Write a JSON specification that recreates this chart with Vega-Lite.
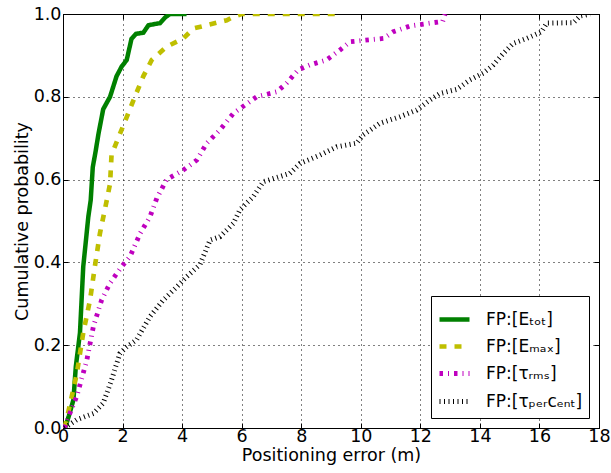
{
  "$schema": "https://vega.github.io/schema/vega-lite/v6.json",
  "autosize": {"type": "none"},
  "padding": {"left": 63, "top": 14, "right": 12, "bottom": 45},
  "width": 536,
  "height": 414,
  "background": "white",
  "config": {
    "font": "DejaVu Sans",
    "view": {"stroke": "black", "strokeWidth": 1},
    "axis": {
      "labelFont": "DejaVu Sans", "titleFont": "DejaVu Sans",
      "labelFontSize": 17.5, "titleFontSize": 17.5, "titleFontWeight": "normal",
      "labelColor": "black", "titleColor": "black",
      "tickColor": "black", "domainColor": "black", "tickSize": -5, "tickWidth": 1,
      "gridColor": "black", "gridDash": [1, 4], "gridOpacity": 1, "gridWidth": 1
    },
    "legend": {
      "orient": "bottom-right", "offset": 10,
      "strokeColor": "black", "fillColor": "white", "padding": 6,
      "labelFont": "DejaVu Sans", "labelFontSize": 17, "labelColor": "black",
      "symbolSize": 900, "symbolType": "stroke", "rowPadding": 0, "labelOffset": 14,
      "cornerRadius": 0
    }
  },
  "resolve": {"axis": {"x": "independent", "y": "independent"}},
  "data": {"values": [
    {"s": "FP:[Eₜₒₜ]", "x": 0.07, "y": 0},
    {"s": "FP:[Eₜₒₜ]", "x": 0.2, "y": 0.03},
    {"s": "FP:[Eₜₒₜ]", "x": 0.35, "y": 0.068},
    {"s": "FP:[Eₜₒₜ]", "x": 0.43, "y": 0.148},
    {"s": "FP:[Eₜₒₜ]", "x": 0.57, "y": 0.23},
    {"s": "FP:[Eₜₒₜ]", "x": 0.68, "y": 0.39},
    {"s": "FP:[Eₜₒₜ]", "x": 0.78, "y": 0.46},
    {"s": "FP:[Eₜₒₜ]", "x": 0.85, "y": 0.51},
    {"s": "FP:[Eₜₒₜ]", "x": 0.93, "y": 0.55},
    {"s": "FP:[Eₜₒₜ]", "x": 1.0, "y": 0.63},
    {"s": "FP:[Eₜₒₜ]", "x": 1.1, "y": 0.67},
    {"s": "FP:[Eₜₒₜ]", "x": 1.19, "y": 0.71},
    {"s": "FP:[Eₜₒₜ]", "x": 1.35, "y": 0.77},
    {"s": "FP:[Eₜₒₜ]", "x": 1.58, "y": 0.80},
    {"s": "FP:[Eₜₒₜ]", "x": 1.8, "y": 0.85},
    {"s": "FP:[Eₜₒₜ]", "x": 1.97, "y": 0.873},
    {"s": "FP:[Eₜₒₜ]", "x": 2.14, "y": 0.889},
    {"s": "FP:[Eₜₒₜ]", "x": 2.3, "y": 0.94},
    {"s": "FP:[Eₜₒₜ]", "x": 2.45, "y": 0.952},
    {"s": "FP:[Eₜₒₜ]", "x": 2.7, "y": 0.955},
    {"s": "FP:[Eₜₒₜ]", "x": 2.87, "y": 0.973},
    {"s": "FP:[Eₜₒₜ]", "x": 3.26, "y": 0.978},
    {"s": "FP:[Eₜₒₜ]", "x": 3.45, "y": 0.993},
    {"s": "FP:[Eₜₒₜ]", "x": 3.6, "y": 1.0},
    {"s": "FP:[Eₜₒₜ]", "x": 4.15, "y": 1.0},
    {"s": "FP:[Eₘₐₓ]", "x": 0.05, "y": 0},
    {"s": "FP:[Eₘₐₓ]", "x": 0.12, "y": 0.02},
    {"s": "FP:[Eₘₐₓ]", "x": 0.46, "y": 0.13},
    {"s": "FP:[Eₘₐₓ]", "x": 0.68, "y": 0.23},
    {"s": "FP:[Eₘₐₓ]", "x": 0.91, "y": 0.31},
    {"s": "FP:[Eₘₐₓ]", "x": 1.07, "y": 0.39},
    {"s": "FP:[Eₘₐₓ]", "x": 1.24, "y": 0.47},
    {"s": "FP:[Eₘₐₓ]", "x": 1.47, "y": 0.55},
    {"s": "FP:[Eₘₐₓ]", "x": 1.58, "y": 0.59},
    {"s": "FP:[Eₘₐₓ]", "x": 1.63, "y": 0.66},
    {"s": "FP:[Eₘₐₓ]", "x": 1.91, "y": 0.71},
    {"s": "FP:[Eₘₐₓ]", "x": 2.19, "y": 0.76},
    {"s": "FP:[Eₘₐₓ]", "x": 2.47, "y": 0.81},
    {"s": "FP:[Eₘₐₓ]", "x": 2.70, "y": 0.85},
    {"s": "FP:[Eₘₐₓ]", "x": 2.98, "y": 0.889},
    {"s": "FP:[Eₘₐₓ]", "x": 3.48, "y": 0.921},
    {"s": "FP:[Eₘₐₓ]", "x": 4.04, "y": 0.941},
    {"s": "FP:[Eₘₐₓ]", "x": 4.38, "y": 0.965},
    {"s": "FP:[Eₘₐₓ]", "x": 4.83, "y": 0.973},
    {"s": "FP:[Eₘₐₓ]", "x": 5.5, "y": 0.985},
    {"s": "FP:[Eₘₐₓ]", "x": 5.72, "y": 0.993},
    {"s": "FP:[Eₘₐₓ]", "x": 6.0, "y": 1.0},
    {"s": "FP:[Eₘₐₓ]", "x": 9.3, "y": 1.0},
    {"s": "FP:[τᵣₘₛ]", "x": 0.05, "y": 0},
    {"s": "FP:[τᵣₘₛ]", "x": 0.2, "y": 0.03},
    {"s": "FP:[τᵣₘₛ]", "x": 0.46, "y": 0.076},
    {"s": "FP:[τᵣₘₛ]", "x": 0.8, "y": 0.164},
    {"s": "FP:[τᵣₘₛ]", "x": 1.02, "y": 0.245},
    {"s": "FP:[τᵣₘₛ]", "x": 1.3, "y": 0.31},
    {"s": "FP:[τᵣₘₛ]", "x": 1.58, "y": 0.35},
    {"s": "FP:[τᵣₘₛ]", "x": 1.97, "y": 0.39},
    {"s": "FP:[τᵣₘₛ]", "x": 2.25, "y": 0.414},
    {"s": "FP:[τᵣₘₛ]", "x": 2.59, "y": 0.47},
    {"s": "FP:[τᵣₘₛ]", "x": 2.92, "y": 0.51},
    {"s": "FP:[τᵣₘₛ]", "x": 3.15, "y": 0.555},
    {"s": "FP:[τᵣₘₛ]", "x": 3.48, "y": 0.60},
    {"s": "FP:[τᵣₘₛ]", "x": 4.04, "y": 0.623},
    {"s": "FP:[τᵣₘₛ]", "x": 4.49, "y": 0.647},
    {"s": "FP:[τᵣₘₛ]", "x": 4.83, "y": 0.688},
    {"s": "FP:[τᵣₘₛ]", "x": 5.27, "y": 0.72},
    {"s": "FP:[τᵣₘₛ]", "x": 5.72, "y": 0.76},
    {"s": "FP:[τᵣₘₛ]", "x": 6.5, "y": 0.80},
    {"s": "FP:[τᵣₘₛ]", "x": 7.18, "y": 0.812},
    {"s": "FP:[τᵣₘₛ]", "x": 7.51, "y": 0.833},
    {"s": "FP:[τᵣₘₛ]", "x": 7.9, "y": 0.865},
    {"s": "FP:[τᵣₘₛ]", "x": 8.29, "y": 0.877},
    {"s": "FP:[τᵣₘₛ]", "x": 8.85, "y": 0.889},
    {"s": "FP:[τᵣₘₛ]", "x": 9.3, "y": 0.913},
    {"s": "FP:[τᵣₘₛ]", "x": 9.64, "y": 0.933},
    {"s": "FP:[τᵣₘₛ]", "x": 10.76, "y": 0.941},
    {"s": "FP:[τᵣₘₛ]", "x": 11.09, "y": 0.957},
    {"s": "FP:[τᵣₘₛ]", "x": 11.65, "y": 0.971},
    {"s": "FP:[τᵣₘₛ]", "x": 12.43, "y": 0.979},
    {"s": "FP:[τᵣₘₛ]", "x": 12.75, "y": 0.982},
    {"s": "FP:[τᵣₘₛ]", "x": 12.83, "y": 1.0},
    {"s": "FP:[τₚₑᵣcₑₙₜ]", "x": 0.05, "y": 0},
    {"s": "FP:[τₚₑᵣcₑₙₜ]", "x": 0.46, "y": 0.02},
    {"s": "FP:[τₚₑᵣcₑₙₜ]", "x": 1.02, "y": 0.035},
    {"s": "FP:[τₚₑᵣcₑₙₜ]", "x": 1.35, "y": 0.06},
    {"s": "FP:[τₚₑᵣcₑₙₜ]", "x": 1.63, "y": 0.116},
    {"s": "FP:[τₚₑᵣcₑₙₜ]", "x": 1.91, "y": 0.18},
    {"s": "FP:[τₚₑᵣcₑₙₜ]", "x": 2.14, "y": 0.196},
    {"s": "FP:[τₚₑᵣcₑₙₜ]", "x": 2.47, "y": 0.213},
    {"s": "FP:[τₚₑᵣcₑₙₜ]", "x": 2.92, "y": 0.269},
    {"s": "FP:[τₚₑᵣcₑₙₜ]", "x": 3.37, "y": 0.309},
    {"s": "FP:[τₚₑᵣcₑₙₜ]", "x": 3.82, "y": 0.341},
    {"s": "FP:[τₚₑᵣcₑₙₜ]", "x": 4.15, "y": 0.365},
    {"s": "FP:[τₚₑᵣcₑₙₜ]", "x": 4.6, "y": 0.395},
    {"s": "FP:[τₚₑᵣcₑₙₜ]", "x": 4.94, "y": 0.454},
    {"s": "FP:[τₚₑᵣcₑₙₜ]", "x": 5.27, "y": 0.462},
    {"s": "FP:[τₚₑᵣcₑₙₜ]", "x": 5.72, "y": 0.494},
    {"s": "FP:[τₚₑᵣcₑₙₜ]", "x": 5.94, "y": 0.527},
    {"s": "FP:[τₚₑᵣcₑₙₜ]", "x": 6.39, "y": 0.559},
    {"s": "FP:[τₚₑᵣcₑₙₜ]", "x": 6.73, "y": 0.595},
    {"s": "FP:[τₚₑᵣcₑₙₜ]", "x": 7.62, "y": 0.615},
    {"s": "FP:[τₚₑᵣcₑₙₜ]", "x": 7.96, "y": 0.639},
    {"s": "FP:[τₚₑᵣcₑₙₜ]", "x": 8.63, "y": 0.659},
    {"s": "FP:[τₚₑᵣcₑₙₜ]", "x": 9.19, "y": 0.679},
    {"s": "FP:[τₚₑᵣcₑₙₜ]", "x": 9.86, "y": 0.688},
    {"s": "FP:[τₚₑᵣcₑₙₜ]", "x": 10.08, "y": 0.708},
    {"s": "FP:[τₚₑᵣcₑₙₜ]", "x": 10.64, "y": 0.736},
    {"s": "FP:[τₚₑᵣcₑₙₜ]", "x": 11.32, "y": 0.752},
    {"s": "FP:[τₚₑᵣcₑₙₜ]", "x": 11.88, "y": 0.768},
    {"s": "FP:[τₚₑᵣcₑₙₜ]", "x": 12.32, "y": 0.792},
    {"s": "FP:[τₚₑᵣcₑₙₜ]", "x": 12.66, "y": 0.808},
    {"s": "FP:[τₚₑᵣcₑₙₜ]", "x": 13.22, "y": 0.818},
    {"s": "FP:[τₚₑᵣcₑₙₜ]", "x": 13.67, "y": 0.841},
    {"s": "FP:[τₚₑᵣcₑₙₜ]", "x": 14.11, "y": 0.857},
    {"s": "FP:[τₚₑᵣcₑₙₜ]", "x": 14.45, "y": 0.877},
    {"s": "FP:[τₚₑᵣcₑₙₜ]", "x": 14.79, "y": 0.905},
    {"s": "FP:[τₚₑᵣcₑₙₜ]", "x": 15.12, "y": 0.929},
    {"s": "FP:[τₚₑᵣcₑₙₜ]", "x": 15.57, "y": 0.941},
    {"s": "FP:[τₚₑᵣcₑₙₜ]", "x": 16.07, "y": 0.957},
    {"s": "FP:[τₚₑᵣcₑₙₜ]", "x": 16.24, "y": 0.978},
    {"s": "FP:[τₚₑᵣcₑₙₜ]", "x": 17.14, "y": 0.979},
    {"s": "FP:[τₚₑᵣcₑₙₜ]", "x": 17.36, "y": 0.995},
    {"s": "FP:[τₚₑᵣcₑₙₜ]", "x": 17.7, "y": 1.0}
  ]},
  "layer": [
    {
      "mark": {"type": "line", "strokeCap": "butt", "clip": true},
      "encoding": {
        "x": {"field": "x", "type": "quantitative", "scale": {"domain": [0, 18], "nice": false, "zero": false},
              "axis": {"orient": "bottom", "title": "Positioning error (m)", "values": [0,2,4,6,8,10,12,14,16,18], "grid": true, "labelPadding": 4, "titlePadding": 2, "labelFlush": false}},
        "y": {"field": "y", "type": "quantitative", "scale": {"domain": [0, 1], "nice": false},
              "axis": {"orient": "left", "title": "Cumulative probability", "values": [0,0.2,0.4,0.6,0.8,1.0], "format": ".1f", "grid": true, "labelPadding": 7, "titlePadding": 2, "labelFlush": false}},
        "color": {"field": "s", "type": "nominal", "title": null,
                  "scale": {"domain": ["FP:[Eₜₒₜ]", "FP:[Eₘₐₓ]", "FP:[τᵣₘₛ]", "FP:[τₚₑᵣcₑₙₜ]"], "range": ["#008000", "#bfbf00", "#bf00bf", "#000000"]}},
        "strokeDash": {"field": "s", "type": "nominal", "title": null,
                  "scale": {"domain": ["FP:[Eₜₒₜ]", "FP:[Eₘₐₓ]", "FP:[τᵣₘₛ]", "FP:[τₚₑᵣcₑₙₜ]"], "range": [[1, 0], [7, 8], [3.5, 5, 1, 5], [1, 3.5]]}},
        "strokeWidth": {"field": "s", "type": "nominal", "title": null,
                  "scale": {"domain": ["FP:[Eₜₒₜ]", "FP:[Eₘₐₓ]", "FP:[τᵣₘₛ]", "FP:[τₚₑᵣcₑₙₜ]"], "range": [4.5, 5, 4, 3]}}
      }
    },
    {
      "mark": {"type": "line", "opacity": 0},
      "encoding": {
        "x": {"field": "x", "type": "quantitative", "scale": {"domain": [0, 18], "nice": false, "zero": false},
              "axis": {"orient": "top", "title": null, "labels": false, "grid": false, "domain": false, "values": [0,2,4,6,8,10,12,14,16,18]}},
        "y": {"field": "y", "type": "quantitative", "scale": {"domain": [0, 1], "nice": false},
              "axis": {"orient": "right", "title": null, "labels": false, "grid": false, "domain": false, "values": [0,0.2,0.4,0.6,0.8,1.0]}},
        "detail": {"field": "s"}
      }
    }
  ]
}
